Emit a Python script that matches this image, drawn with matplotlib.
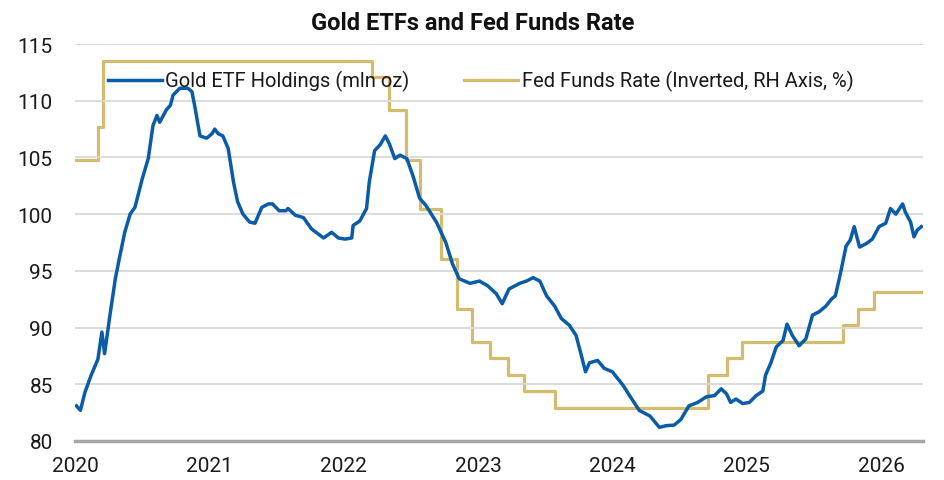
import matplotlib
matplotlib.use('Agg')
import matplotlib.pyplot as plt
import numpy as np

# gold ETF holdings (mln oz), x in decimal years
etf_t = [2020.01, 2020.04, 2020.074, 2020.12, 2020.17, 2020.20, 2020.22, 2020.26, 2020.30, 2020.33,
         2020.37, 2020.41, 2020.446, 2020.47, 2020.50, 2020.545, 2020.58, 2020.61, 2020.63, 2020.68,
         2020.71, 2020.73, 2020.78, 2020.84, 2020.87, 2020.89, 2020.93, 2020.98, 2021.02, 2021.04,
         2021.065, 2021.10, 2021.14, 2021.18, 2021.21, 2021.25, 2021.30, 2021.34, 2021.39, 2021.44,
         2021.47, 2021.52, 2021.57, 2021.585, 2021.64, 2021.70, 2021.76, 2021.85, 2021.91, 2021.96,
         2022.01, 2022.06, 2022.07, 2022.12, 2022.17, 2022.19, 2022.23, 2022.27, 2022.31, 2022.34,
         2022.38, 2022.42, 2022.47, 2022.515, 2022.565, 2022.61, 2022.69, 2022.76, 2022.81, 2022.86,
         2022.94, 2023.01, 2023.07, 2023.135, 2023.18, 2023.23, 2023.31, 2023.36, 2023.41, 2023.46,
         2023.51, 2023.57, 2023.62, 2023.68, 2023.73, 2023.77, 2023.80, 2023.83, 2023.89, 2023.94,
         2024.00, 2024.08, 2024.15, 2024.20, 2024.28, 2024.35, 2024.40, 2024.46, 2024.51, 2024.57,
         2024.635, 2024.70, 2024.76, 2024.81, 2024.85, 2024.88, 2024.92, 2024.97, 2025.02, 2025.07,
         2025.12, 2025.14, 2025.18, 2025.22, 2025.27, 2025.30, 2025.34, 2025.39, 2025.44, 2025.49,
         2025.54, 2025.59, 2025.63, 2025.66, 2025.70, 2025.74, 2025.77, 2025.80, 2025.84, 2025.89,
         2025.935, 2025.985, 2026.035, 2026.07, 2026.11, 2026.16, 2026.18, 2026.22, 2026.245, 2026.27,
         2026.30]
etf_v = [83.1, 82.7, 84.3, 85.8, 87.2, 89.6, 87.7, 91.1, 94.3, 96.1,
         98.4, 100.0, 100.6, 101.7, 103.1, 104.9, 107.8, 108.7, 108.1, 109.2,
         109.6, 110.5, 111.1, 111.1, 110.8, 109.6, 106.9, 106.7, 107.1, 107.5,
         107.1, 106.9, 105.8, 102.8, 101.1, 100.0, 99.3, 99.2, 100.6, 100.9,
         100.9, 100.3, 100.3, 100.5, 99.9, 99.7, 98.7, 97.9, 98.4, 97.9,
         97.8, 97.9, 99.0, 99.4, 100.5, 102.8, 105.6, 106.1, 106.9, 106.2,
         104.9, 105.2, 104.9, 103.4, 101.4, 100.8, 99.3, 97.5, 95.6, 94.3,
         93.9, 94.1, 93.7, 93.0, 92.1, 93.4, 93.9, 94.1, 94.4, 94.1,
         92.8, 91.9, 90.8, 90.2, 89.3, 87.5, 86.1, 86.9, 87.1, 86.4,
         86.1, 84.9, 83.6, 82.7, 82.2, 81.2, 81.35, 81.4, 81.9, 83.1,
         83.4, 83.9, 84.0, 84.6, 84.15, 83.4, 83.7, 83.3, 83.4, 84.0,
         84.4, 85.8, 86.9, 88.3, 88.85, 90.3, 89.3, 88.4, 89.0, 91.1,
         91.4, 91.9, 92.5, 92.8, 94.9, 97.2, 97.7, 98.9, 97.1, 97.4,
         97.8, 98.9, 99.2, 100.5, 100.0, 100.9, 100.2, 99.3, 98.0, 98.6,
         98.9]

# fed funds rate (upper bound, %), step changes
ff_t = [2020.0, 2020.17, 2020.205, 2022.21, 2022.335, 2022.46, 2022.57, 2022.725, 2022.84,
        2022.955, 2023.09, 2023.225, 2023.34, 2023.57, 2024.715, 2024.85, 2024.965,
        2025.715, 2025.83, 2025.945, 2026.30]
ff_v = [1.75, 1.25, 0.25, 0.50, 1.00, 1.75, 2.50, 3.25, 4.00,
        4.50, 4.75, 5.00, 5.25, 5.50, 5.00, 4.75, 4.50,
        4.25, 4.00, 3.75, 3.75]

yticks_left = [80, 85, 90, 95, 100, 105, 110, 115]
yticks_right = [0, 1, 2, 3, 4, 5, 6]
years = [2020, 2021, 2022, 2023, 2024, 2025, 2026]

blue = '#0b5ca8'
gold = '#d3bc6e'
font = 'Roboto'

fig = plt.figure(figsize=(9.45, 4.81), dpi=100)
ax = fig.add_axes([0.0794, 0.0811, 0.8970, 0.8253])
ax2 = ax.twinx()

ax2.step(ff_t, ff_v, where='post', color=gold, lw=2.3,
         label='Fed Funds Rate (Inverted, RH Axis, %)')
ax.plot(etf_t, etf_v, color=blue, lw=2.5, label='Gold ETF Holdings (mln oz)')

# blue line drawn above the gold one
ax.set_zorder(ax2.get_zorder() + 1)
ax.patch.set_visible(False)

ax.set_xlim(2020.0, 2026.31)
ax.set_ylim(80, 115)
ax2.set_ylim(6, 0)

ax.set_yticks(yticks_left)
ax2.set_yticks(yticks_right)
ax.set_xticks(years)
ax.set_xticklabels([str(y) for y in years])

ax.grid(axis='y', color='#d9d9d9', lw=1.3)
ax.set_axisbelow(True)
for s in ['top', 'left', 'right']:
    ax.spines[s].set_visible(False)
    ax2.spines[s].set_visible(False)
ax2.spines['bottom'].set_visible(False)
ax.spines['bottom'].set_color('#a6a6a6')
ax.spines['bottom'].set_linewidth(2.5)

ax.tick_params(axis='both', length=0, labelsize=15)
ax.tick_params(axis='y', pad=16)
ax.tick_params(axis='x', pad=11)
ax2.tick_params(axis='y', length=0, labelsize=15, pad=15)
for lab in ax.get_xticklabels() + ax.get_yticklabels() + ax2.get_yticklabels():
    lab.set_fontfamily(font)
    lab.set_color('#1a1a1a')

h1, l1 = ax.get_legend_handles_labels()
h2, l2 = ax2.get_legend_handles_labels()
leg = ax.legend(h1 + h2, l1 + l2, loc='center left', bbox_to_anchor=(0.039, 0.907),
                ncol=2, frameon=False, borderpad=0, borderaxespad=0,
                handlelength=2.7, handletextpad=0.15, columnspacing=2.7,
                prop={'family': font, 'size': 14.5})
for t in leg.get_texts():
    t.set_color('#1a1a1a')

fig.text(0.5, 0.951, 'Gold ETFs and Fed Funds Rate', ha='center', va='center',
         fontsize=17, fontweight='bold', family=font, color='#111111')

fig.savefig('out.png', dpi=100)
